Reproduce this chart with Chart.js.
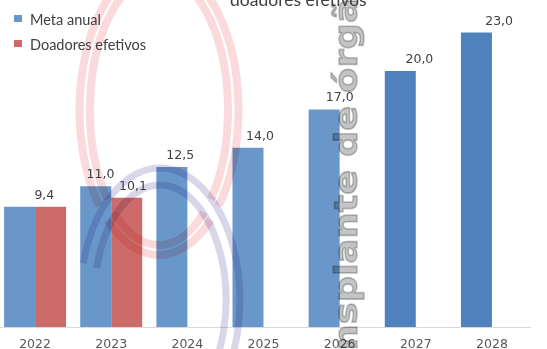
<!DOCTYPE html>
<html>
<head>
<meta charset="utf-8">
<script src="https://cdn.jsdelivr.net/npm/chart.js@4.4.1/dist/chart.umd.min.js"></script>
<style>
    html, body { margin: 0; padding: 0; width: 547px; height: 349px; overflow: hidden; background: #fff; }
    #wrap { position: absolute; left: -3px; top: 0; width: 550px; height: 362px; }
</style>
</head>
<body>
<div id="wrap"><canvas id="metaChart"></canvas></div>
<script>
/* Meta anual vs doadores efetivos (pmp) */
const years = ['2022', '2023', '2024', '2025', '2026', '2027', '2028'];
const metaAnual = [9.4, 11.0, 12.5, 14.0, 17.0, 20.0, 23.0];
const doadoresEfetivos = [9.4, 10.1, null, null, null, null, null];
const seriesNames = ['Meta anual', 'Doadores efetivos'];
const titleTail = 'doadores efetivos';
const watermarkText = 'Transplante de órgãos';

const BLUE = '#6a97ca';
const BLUE_DARK = '#4f81bd';
const RED = '#cd6b6a';
const fmt = (v) => v.toFixed(1).replace('.', ',');

// background logo + vertical text, drawn over the bars like the pasted picture
const watermark = {
    id: 'watermark',
    afterDatasetsDraw(chart) {
        const ctx = chart.ctx;
        ctx.save();
        ctx.translate(3, 0); // page coords
        ctx.globalCompositeOperation = 'multiply';

        ctx.strokeStyle = 'rgb(250,218,218)';
        ctx.lineWidth = 8;
        [[79.5, 145], [69, 135]].forEach(([rx, ry]) => {
            ctx.beginPath();
            ctx.ellipse(159, 110, rx, ry, 0, 0.86, 2.28);
            ctx.stroke();
            ctx.beginPath();
            ctx.ellipse(159, 110, rx, ry, 0, 2.42, Math.PI * 2 + 0.72);
            ctx.stroke();
        });

        ctx.strokeStyle = 'rgb(218,214,234)';
        ctx.lineWidth = 7;
        [[80, 132], [66, 115]].forEach(([rx, ry]) => {
            ctx.beginPath();
            ctx.ellipse(160, 300, rx, ry, 0, Math.PI + 0.28, Math.PI * 2.5);
            ctx.stroke();
        });

        const stretch = 1.15;
        ctx.font = 'bold 32px "DejaVu Sans"';
        ctx.fillStyle = 'rgb(196,196,196)';
        ctx.strokeStyle = 'rgb(196,196,196)';
        ctx.lineWidth = 1.5;
        ctx.lineJoin = 'round';
        const before = ctx.measureText('Transplante ').width;
        ctx.translate(357, 157);
        ctx.rotate(-Math.PI / 2);
        ctx.scale(stretch, 1);
        ctx.textBaseline = 'alphabetic';
        ctx.textAlign = 'left';
        ctx.fillText(watermarkText, -before, 0);
        ctx.strokeText(watermarkText, -before, 0);
        ctx.restore();
    },
};

// value labels, legend and the visible title line
const decor = {
    id: 'decor',
    afterDraw(chart) {
        const ctx = chart.ctx;
        const xs = chart.scales.x;
        ctx.save();
        ctx.font = '12.5px "DejaVu Sans"';
        ctx.fillStyle = '#404040';
        ctx.textAlign = 'center';
        ctx.textBaseline = 'alphabetic';
        chart.data.datasets.forEach((ds, di) => {
            const meta = chart.getDatasetMeta(di);
            meta.data.forEach((bar, i) => {
                const v = ds.data[i];
                if (v == null) return;
                const other = chart.data.datasets[1 - di].data[i];
                let x = bar.x;
                if (other === v) {
                    if (di === 1) return;
                    x = xs.getPixelForValue(i) + 7;
                }
                ctx.fillText(fmt(v), x * 1.047 + 3 * 0.047, bar.y - 8);
            });
        });

        ctx.translate(3, 0);
        ctx.textAlign = 'left';
        ctx.font = '14.5px Lato';
        chart.data.datasets.forEach((ds, di) => {
            const y = 25 + di * 25;
            ctx.fillStyle = di === 0 ? BLUE : RED;
            ctx.fillRect(14, y - 10, 8, 7);
            ctx.fillStyle = '#404040';
            ctx.fillText(ds.label, 30, y);
        });

        ctx.font = '17.5px Lato';
        ctx.fillText(titleTail, 230, 6);
        ctx.restore();
    },
};

new Chart(document.getElementById('metaChart'), {
    type: 'bar',
    data: {
        labels: years,
        datasets: [
            {
                label: seriesNames[0],
                data: metaAnual,
                backgroundColor: (c) => (c.dataIndex < 5 ? BLUE : BLUE_DARK),
                categoryPercentage: 0.814,
                barPercentage: 1,
            },
            {
                label: seriesNames[1],
                data: doadoresEfetivos,
                backgroundColor: RED,
                categoryPercentage: 0.814,
                barPercentage: 1,
            },
        ],
    },
    options: {
        responsive: true,
        maintainAspectRatio: false,
        animation: false,
        devicePixelRatio: 1,
        layout: { padding: { top: 7, right: 17, bottom: 0, left: 0 } },
        plugins: { legend: { display: false }, tooltip: { enabled: false } },
        scales: {
            x: {
                grid: { display: false, drawTicks: false },
                border: { display: true, color: '#d9d9d9', width: 1 },
                ticks: { color: '#595959', font: { family: 'DejaVu Sans', size: 12.5 }, padding: 10 },
            },
            y: { display: false, min: 0, max: 25 },
        },
    },
    plugins: [watermark, decor],
});
</script>
</body>
</html>
